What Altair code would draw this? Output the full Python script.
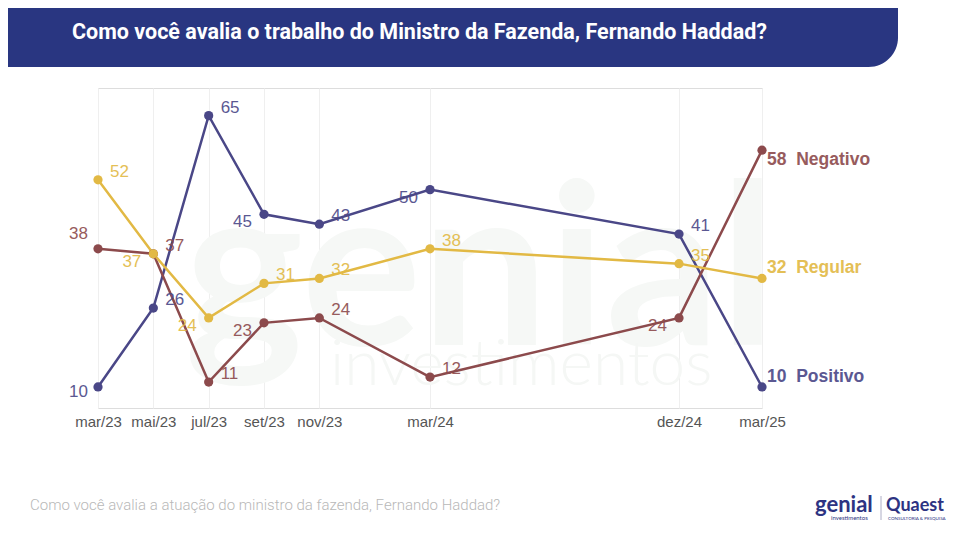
import altair as alt
import pandas as pd

# ---- data ----
months = ["mar/23", "mai/23", "jul/23", "set/23", "nov/23", "mar/24", "dez/24", "mar/25"]
month_idx = [0, 2, 4, 6, 8, 12, 21, 24]          # months since mar/23
series_names = ["Positivo", "Negativo", "Regular"]
positivo = [10, 26, 65, 45, 43, 50, 41, 10]
negativo = [38, 37, 11, 23, 24, 12, 24, 58]
regular = [52, 37, 24, 31, 32, 38, 35, 32]

# label placement codes (style, not data)
pos_place = ["l", "ra", "ra", "lb", "ra", "lb", "ra", "end_up"]
neg_place = ["la", "ra", "ra", "lb", "ra", "ra", "lb", "end_down"]
reg_place = ["ra", "lb", "lb", "ra", "ra", "ra", "ra", "end_up"]

colors = ["#4a4787", "#8c4a4c", "#e2b944"]
title_text = "Como você avalia o trabalho do Ministro da Fazenda, Fernando Haddad?"
footer_text = "Como você avalia a atuação do ministro da fazenda, Fernando Haddad?"

rows = []
for name, vals, places in zip(series_names, [positivo, negativo, regular],
                              [pos_place, neg_place, reg_place]):
    for i, (m, v, p) in enumerate(zip(month_idx, vals, places)):
        lab = str(v)
        if p.startswith("end"):
            lab = f"{v}\u00a0\u00a0{name}"
        rows.append({"serie": name, "mes": m, "valor": v, "lab": lab, "place": p})
df = pd.DataFrame(rows)

FONT = "Liberation Sans"
YDOM = [5.74, 70.6]

xenc = alt.X("mes:Q", scale=alt.Scale(domain=[0, 24], nice=False, zero=False),
             axis=alt.Axis(values=month_idx, grid=True, gridColor="#efefef", gridWidth=1,
                           domain=False, ticks=False, labelFontSize=15, labelColor="#555555",
                           labelFont=FONT, labelPadding=6, title=None,
                           labelOverlap=False, labelBound=False, labelFlush=False,
                           labelExpr="[" + ",".join(f"'{m}'" for m in months) + "][indexof(["
                           + ",".join(str(i) for i in month_idx) + "], datum.value)]"))
yenc = alt.Y("valor:Q", scale=alt.Scale(domain=YDOM, nice=False, zero=False), axis=None)
cenc = alt.Color("serie:N", scale=alt.Scale(domain=series_names, range=colors), legend=None)

base = alt.Chart(df)

lines = base.mark_line(strokeWidth=2.5).encode(x=xenc, y=yenc, color=cenc, detail="serie:N")
points = base.mark_circle(size=85, opacity=1).encode(x=xenc, y=yenc, color=cenc)

place_style = {
    "ra": dict(align="left", dx=12, dy=-8, fontWeight="normal"),
    "lb": dict(align="right", dx=-12, dy=8, fontWeight="normal"),
    "la": dict(align="right", dx=-10, dy=-15, fontWeight="normal"),
    "l": dict(align="right", dx=-10, dy=5, fontWeight="normal"),
    "end_up": dict(align="left", dx=5, dy=-10, fontWeight="bold"),
    "end_down": dict(align="left", dx=5, dy=10, fontWeight="bold"),
}
label_layers = []
for p, st in place_style.items():
    fs = 17.5 if p.startswith("end") else 17
    label_layers.append(
        base.transform_filter(alt.datum.place == p)
        .mark_text(font=FONT, fontSize=fs, baseline="middle", opacity=0.9, **st)
        .encode(x=xenc, y=yenc, color=cenc, text="lab:N")
    )

one = pd.DataFrame({"a": [0]})

def deco_text(txt, x, y, **kw):
    return alt.Chart(pd.DataFrame({"t": [txt]})).mark_text(**kw).encode(
        x=alt.value(x), y=alt.value(y), text="t:N")

# background watermark
wm1 = deco_text("genial", 382, 257, font="Lato", fontSize=225, fontWeight="bold",
                color="#f6f8f6", align="center", baseline="alphabetic")
wm2 = deco_text("investimentos", 232, 297, font="Lato", fontSize=64, fontWeight=300,
                color="#f5f7f5", align="left", baseline="alphabetic")

# header band + title
header = alt.Chart(one).mark_rect(color="#293681", cornerRadiusBottomRight=40).encode(
    x=alt.value(-90), x2=alt.value(800), y=alt.value(-80), y2=alt.value(-21))
title = deco_text(title_text, -26, -55, font="Roboto", fontSize=21.5, fontWeight="bold",
                  color="white", align="left", baseline="middle")

# footer
footer = deco_text(footer_text, -68, 417, font="Roboto", fontSize=15, fontWeight=300,
                   color="#b8b8b8", align="left", baseline="middle")
logo1 = deco_text("genial", 717, 424, font="Lato", fontSize=22, fontWeight="bold",
                  color="#2d3382", align="left", baseline="alphabetic")
logo1b = deco_text("investimentos", 733, 432, font="Lato", fontSize=6,
                   color="#2d3382", align="left", baseline="alphabetic")
logo2 = deco_text("Quaest", 788, 423, font="Lato", fontSize=18, fontWeight="bold",
                  color="#2d3382", align="left", baseline="alphabetic")
logo2b = deco_text("CONSULTORIA & PESQUISA", 790, 432, font="Lato", fontSize=4.5,
                   color="#2d3382", align="left", baseline="alphabetic")
sep = alt.Chart(one).mark_rule(color="#9a9ab8", strokeWidth=0.8).encode(
    x=alt.value(783), y=alt.value(408), y2=alt.value(432))

chart = alt.layer(
    wm1, wm2, lines, points, *label_layers, header, title, footer,
    logo1, logo1b, sep, logo2, logo2b
).properties(
    width=664, height=320,
    autosize=alt.AutoSizeParams(type="none"),
    padding={"left": 90, "top": 80, "right": 190, "bottom": 124},
).configure_view(stroke=None).configure(background="white")

chart.save("out.html", embed_options={"renderer": "svg", "actions": False})
